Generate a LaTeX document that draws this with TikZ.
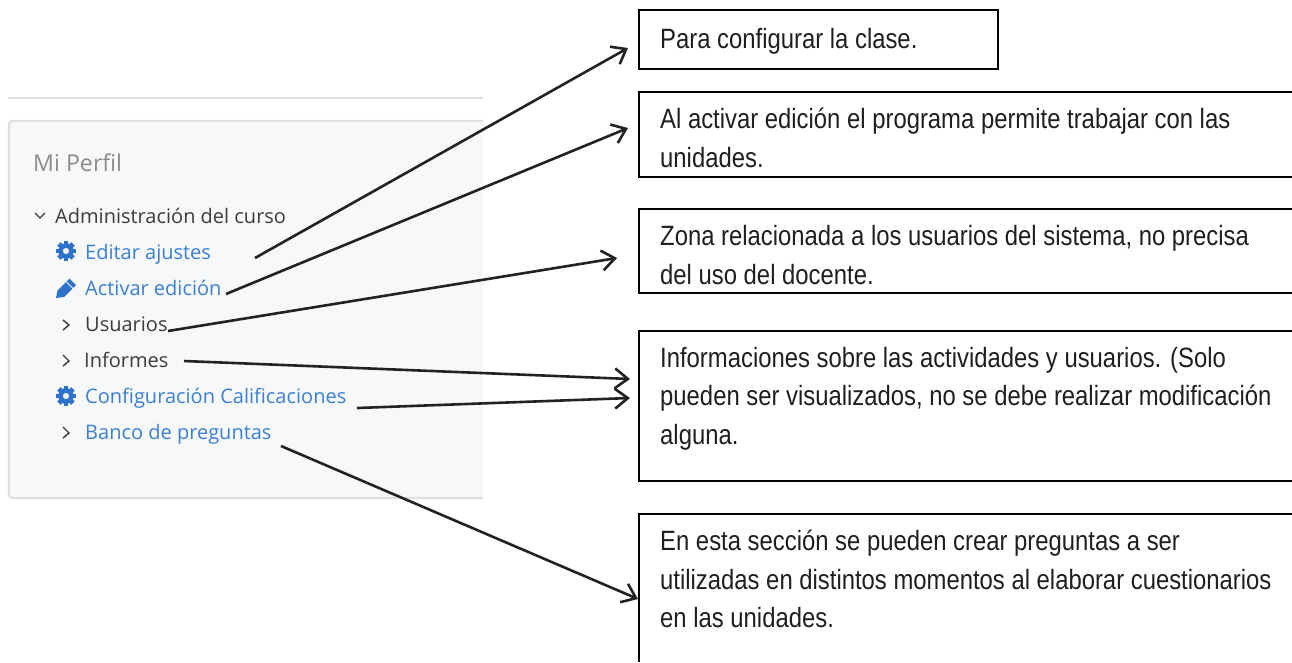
\documentclass[tikz,border=0pt]{standalone}
\usepackage{fontspec}
\setmainfont{Open Sans}
\newfontfamily\narrowfont[FakeStretch=0.855]{Liberation Sans}
\usetikzlibrary{arrows.meta}
\definecolor{linkblue}{HTML}{3A7FD5}
\definecolor{gearblue}{HTML}{2F72CC}
\definecolor{ink}{HTML}{3C3C3C}
\definecolor{panelfill}{HTML}{F7F8FA}
\definecolor{panelline}{HTML}{DFDFDF}
\definecolor{arrowink}{HTML}{222222}
\tikzset{
  x=1pt,y=-1pt,
  notebox/.style={draw=black,line width=1.3pt,fill=white},
  notetext/.style={anchor=base west,inner sep=0pt,font=\narrowfont\fontsize{27.9}{32}\selectfont,text=black!88},
  sidelink/.style={anchor=base west,inner sep=0pt,font=\fontsize{20}{24}\selectfont,text=linkblue},
  sideplain/.style={anchor=base west,inner sep=0pt,font=\fontsize{20}{24}\selectfont,text=ink},
  pointer/.style={draw=arrowink,line width=2.6pt,-{Straight Barb[length=13pt,width=20pt,line width=2.6pt]}},
  chev/.style={draw=ink,line width=1.4pt},
}
\newcommand{\gearicon}[2]{%
  \foreach \a in {0,45,...,315}{\fill[gearblue,rotate around={\a:(#1,#2)}] (#1-2.4,#2-10) rectangle (#1+2.4,#2-5);}
  \fill[gearblue,even odd rule] (#1,#2) circle (7.8) (#1,#2) circle (3.2);
}
\begin{document}
\begin{tikzpicture}
\useasboundingbox (0,0) rectangle (1292,662);
\fill[white] (0,0) rectangle (1292,662);
% panel
\draw[panelline,line width=2.4pt] (8,98) -- (483,98);
\path[fill=panelfill] (9,121) rectangle (483,498);
\draw[panelline,line width=2.2pt,rounded corners=3pt] (483,121) -- (9,121) -- (9,498) -- (483,498);
\node[anchor=base west,inner sep=0pt,font=\fontsize{23.2}{28}\selectfont,text=black!45] (title) at (33,171) {Mi Perfil};
\draw[chev] (35,213) -- (40,218) -- (45,213);
\node[sideplain] (admin) at (55,223.6) {Administración del curso};
\gearicon{66}{251}
\node[sidelink] (editar) at (85,259.6) {Editar ajustes};
% pencil
\fill[gearblue] (56,298) -- (57.5,290.5) -- (69.5,278.5) -- (76,285) -- (64,297) -- cycle;
\draw[panelfill,line width=1pt] (66,281.5) -- (73,288.5);
\node[sidelink] (activar) at (85,295.6) {Activar edición};
\draw[chev] (63,320) -- (69,325) -- (63,330);
\node[sideplain] (usuarios) at (85,331.6) {Usuarios};
\draw[chev] (63,355) -- (69,361) -- (63,366);
\node[sideplain] (informes) at (84,367.6) {Informes};
\gearicon{66}{396}
\node[sidelink] (config) at (85,403.6) {Configuración Calificaciones};
\draw[chev] (63,427) -- (69,433) -- (63,438);
\node[sidelink] (banco) at (85,439.6) {Banco de preguntas};
% boxes
\draw[notebox] (639,10) rectangle (998,69);
\coordinate (b1) at (628,48);
\node[notetext] (t1) at (660,48.6) {Para configurar la clase.};
\draw[notebox] (1292,92) -- (639,92) -- (639,177) -- (1292,177);
\coordinate (b2) at (628,128);
\node[notetext] (t2a) at (660,128.6) {Al activar edición el programa permite trabajar con las};
\node[notetext] (t2b) at (660,167.6) {unidades.};
\draw[notebox] (1292,209) -- (639,209) -- (639,293) -- (1292,293);
\coordinate (b3) at (617,258);
\node[notetext] (t3a) at (660,245.6) {Zona relacionada a los usuarios del sistema, no precisa};
\node[notetext] (t3b) at (660,284.6) {del uso del docente.};
\draw[notebox] (1292,331) -- (639,331) -- (639,481) -- (1292,481);
\coordinate (b4a) at (630,379);
\coordinate (b4b) at (630,398);
\node[notetext] (t4a) at (660,367.6) {Informaciones sobre las actividades y usuarios. (Solo};
\node[notetext] (t4b) at (660,405.6) {pueden ser visualizados, no se debe realizar modificación};
\node[notetext] (t4c) at (660,444.6) {alguna.};
\draw[notebox] (1292,514) -- (639,514) -- (639,662);
\coordinate (b5) at (638,599);
\node[notetext] (t5a) at (660,550.6) {En esta sección se pueden crear preguntas a ser};
\node[notetext] (t5b) at (660,589.6) {utilizadas en distintos momentos al elaborar cuestionarios};
\node[notetext] (t5c) at (660,627.6) {en las unidades.};
% connectors
\coordinate (s1) at (255,258);
\coordinate (s2) at (226,294);
\coordinate (s3) at (168,331);
\coordinate (s4) at (184,361);
\coordinate (s5) at (357,408);
\coordinate (s6) at (281,446);
\draw[pointer] (s1) -- (b1);
\draw[pointer] (s2) -- (b2);
\draw[pointer] (s3) -- (b3);
\draw[pointer] (s4) -- (b4a);
\draw[pointer] (s5) -- (b4b);
\draw[pointer] (s6) -- (b5);
\end{tikzpicture}
\end{document}
